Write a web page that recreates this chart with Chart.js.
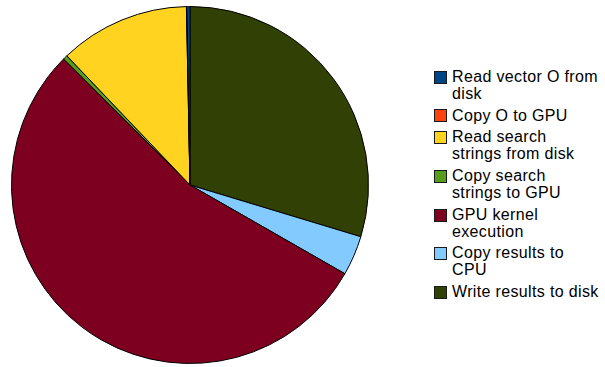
<!DOCTYPE html>
<html>
<head>
<meta charset="utf-8">
<script src="https://cdn.jsdelivr.net/npm/chart.js@4/dist/chart.umd.min.js"></script>
<style>
  html, body { margin: 0; padding: 0; background: #fff; }
  #wrap { position: relative; width: 605px; height: 367px; overflow: hidden; }
  #pieBox { position: absolute; left: 0; top: 0; width: 380px; height: 367px; }
  #legend { position: absolute; left: 434px; top: 68px; font-family: "Liberation Sans", Arial, sans-serif;
            font-size: 16px; line-height: 17px; letter-spacing: 0.35px; color: #000; }
  .item { position: relative; padding-left: 18px; margin-bottom: 4.7px; white-space: nowrap; }
  .sw { position: absolute; left: 0; top: 2.8px; width: 11px; height: 11px; border: 1px solid #1a1a1a; }
</style>
</head>
<body>
<div id="wrap">
  <div id="pieBox"><canvas id="myChart"></canvas></div>
  <div id="legend"></div>
</div>
<script>
// categories in legend order, each split the way the legend wraps it
const categories = [
  ['Read vector O from', 'disk'],
  ['Copy O to GPU'],
  ['Read search', 'strings from disk'],
  ['Copy search', 'strings to GPU'],
  ['GPU kernel', 'execution'],
  ['Copy results to', 'CPU'],
  ['Write results to disk']
];
// share of total time, percent
const shares = [0.28, 0.04, 11.8, 0.4, 54.2, 3.6, 29.68];
const colors = ['#004586', '#ff420e', '#ffd320', '#579d1c', '#7e0021', '#83caff', '#314004'];

// legend
const legend = document.getElementById('legend');
categories.forEach((lines, i) => {
  const item = document.createElement('div');
  item.className = 'item';
  const sw = document.createElement('span');
  sw.className = 'sw';
  sw.style.background = colors[i];
  item.appendChild(sw);
  lines.forEach((t, j) => {
    if (j > 0) item.appendChild(document.createElement('br'));
    item.appendChild(document.createTextNode(t));
  });
  legend.appendChild(item);
});

// slices go counter-clockwise from 12 o'clock, so feed them reversed
const order = categories.map((c, i) => i).reverse();

const ctx = document.getElementById('myChart').getContext('2d');
new Chart(ctx, {
  type: 'pie',
  data: {
    labels: order.map(i => categories[i].join(' ')),
    datasets: [{
      data: order.map(i => shares[i]),
      backgroundColor: order.map(i => colors[i]),
      borderColor: '#000',
      borderWidth: 1
    }]
  },
  options: {
    responsive: true,
    maintainAspectRatio: false,
    animation: false,
    layout: { padding: { left: 11, right: 11, top: 6, bottom: 3 } },
    plugins: {
      legend: { display: false },
      tooltip: { enabled: false }
    }
  }
});
</script>
</body>
</html>
